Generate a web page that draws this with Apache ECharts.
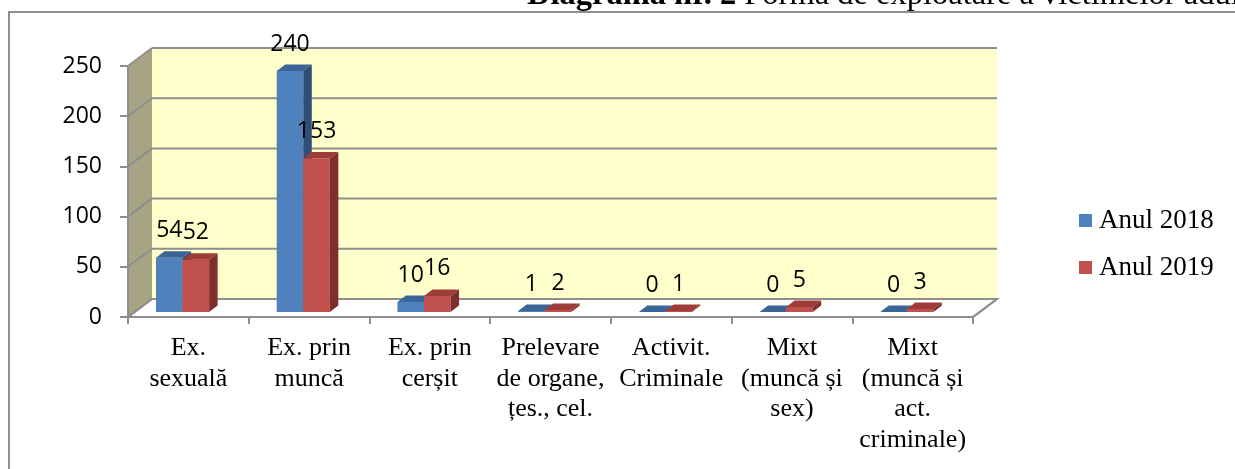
<!DOCTYPE html>
<html><head><meta charset="utf-8">
<script src="https://cdn.jsdelivr.net/npm/echarts@6/dist/echarts.min.js"></script>
<style>html,body{margin:0;padding:0;background:#fff}#c{width:1235px;height:469px}</style>
</head><body><div id="c"></div>
<script>
// ---- data ----
const categories = ['Ex.\nsexuală', 'Ex. prin\nmuncă', 'Ex. prin\ncerșit', 'Prelevare\nde organe,\nțes., cel.', 'Activit.\nCriminale', 'Mixt\n(muncă și\nsex)', 'Mixt\n(muncă și\nact.\ncriminale)'];
const values2018 = [54, 240, 10, 1, 0, 0, 0];
const values2019 = [52, 153, 16, 2, 1, 5, 3];
const seriesNames = ['Anul 2018', 'Anul 2019'];
const yTicks = [0, 50, 100, 150, 200, 250];
const titleBold = 'Diagrama nr. 2';
const titleRest = ' Forma de exploatare a victimelor adulte';

// ---- style constants ----
const GRAY = '#8e8e8e';
const NUM_FONT = 'Open Sans';
const DX = 24, DY = -18;          // wall depth
const BDX = 8.5, BDY = -6.5;      // bar depth
const BAR_LIFT = 5;               // bar front plane above floor front edge
const PAIR_START = -0.268;        // fraction of category width
const BAR_FRAC = 0.22;
const palette = [
  {front: '#4f81bd', top: '#3b6596', side: '#304e75'},
  {front: '#c0504d', top: '#9e3c39', side: '#7e2e2b'}
];

const chart = echarts.init(document.getElementById('c'), null, {renderer: 'canvas'});

function wallsRender(params, api) {
  const cw = api.size([1, 0])[0];
  const p0 = api.coord([0, 0]);
  const xL = p0[0] - cw / 2;
  const xR = api.coord([categories.length - 1, 0])[0] + cw / 2;
  const y0 = p0[1];
  const yT = api.coord([0, yTicks[yTicks.length - 1]])[1];
  const ch = [];
  ch.push({type: 'rect', shape: {x: xL + DX, y: yT + DY, width: xR - xL, height: y0 - yT}, style: {fill: '#ffffcc'}});
  ch.push({type: 'polygon', shape: {points: [[xL, y0], [xL, yT], [xL + DX, yT + DY], [xL + DX, y0 + DY]]}, style: {fill: '#a6a482'}});
  ch.push({type: 'polygon', shape: {points: [[xL, y0], [xR, y0], [xR + DX, y0 + DY], [xL + DX, y0 + DY]]}, style: {fill: '#ffffff', stroke: GRAY, lineWidth: 2}});
  yTicks.forEach(function (t) {
    const y = api.coord([0, t])[1];
    ch.push({type: 'line', shape: {x1: xL + DX, y1: y + DY, x2: xR + DX, y2: y + DY}, style: {stroke: GRAY, lineWidth: 2}});
    ch.push({type: 'line', shape: {x1: xL, y1: y, x2: xL + DX, y2: y + DY}, style: {stroke: GRAY, lineWidth: 2}});
  });
  ch.push({type: 'line', shape: {x1: xR, y1: y0, x2: xR + DX, y2: y0 + DY}, style: {stroke: GRAY, lineWidth: 2}});
  return {type: 'group', children: ch};
}

function barRender(k) {
  return function (params, api) {
    const i = api.value(0), v = api.value(1);
    const cw = api.size([1, 0])[0];
    const base = api.coord([i, 0]);
    const top = api.coord([i, v]);
    const w = cw * BAR_FRAC;
    const L = base[0] + PAIR_START * cw + k * w;
    const R = L + w;
    const yb = base[1] - BAR_LIFT;
    const yt = top[1] - BAR_LIFT;
    const c = palette[k];
    return {type: 'group', children: [
      {type: 'rect', shape: {x: L, y: yt, width: w, height: yb - yt}, style: {fill: c.front}},
      {type: 'polygon', shape: {points: [[L, yt], [R, yt], [R + BDX, yt + BDY], [L + BDX, yt + BDY]]}, style: {fill: c.top}},
      {type: 'polygon', shape: {points: [[R, yt], [R + BDX, yt + BDY], [R + BDX, yb + BDY], [R, yb]]}, style: {fill: c.side}},
      {type: 'text', z2: 50, style: {text: String(v), x: (L + R) / 2, y: yt - 27, align: 'center', verticalAlign: 'middle', fill: '#000', fontFamily: NUM_FONT, fontSize: 23}}
    ]};
  };
}

chart.setOption({
  animation: false,
  backgroundColor: '#ffffff',
  grid: {left: 128, top: 66, width: 845, height: 251, containLabel: false},
  xAxis: {
    type: 'category', data: categories, boundaryGap: true,
    axisLine: {show: true, lineStyle: {color: GRAY, width: 2}},
    axisTick: {show: true, length: 7, lineStyle: {color: GRAY, width: 2}},
    axisLabel: {interval: 0, margin: 16, color: '#000', fontFamily: 'Liberation Serif', fontSize: 26, lineHeight: 30.5, align: 'center'},
    splitLine: {show: false}
  },
  yAxis: {
    type: 'value', min: 0, max: 250, interval: 50,
    axisLine: {show: true, lineStyle: {color: GRAY, width: 2}},
    axisTick: {show: true, length: 8, lineStyle: {color: GRAY, width: 2}},
    axisLabel: {margin: 26, color: '#000', fontFamily: NUM_FONT, fontSize: 23},
    splitLine: {show: false}
  },
  legend: {
    orient: 'vertical', left: 1079, top: 207, padding: 0, itemWidth: 13, itemHeight: 13, itemGap: 20,
    icon: 'rect', data: seriesNames,
    textStyle: {fontFamily: 'Liberation Serif', fontSize: 27, color: '#000', lineHeight: 27, padding: [0, 0, 0, 2]}
  },
  graphic: [
    {type: 'rect', z: 100, shape: {x: 9, y: 12, width: 1240, height: 480}, style: {fill: 'none', stroke: GRAY, lineWidth: 2}},
    {type: 'text', z: 100, style: {x: 527, y: -4.5, text: '{b|' + titleBold + '}' + titleRest, verticalAlign: 'middle', fill: '#000', fontFamily: 'Liberation Serif', fontSize: 32.5,
      rich: {b: {fontWeight: 'bold', fontFamily: 'Liberation Serif', fontSize: 32.5, fill: '#000'}}}}
  ],
  series: [
    {type: 'custom', name: 'walls', z: -1, silent: true, renderItem: wallsRender, data: [[0, 0]], encode: {x: 0, y: 1}},
    {type: 'custom', name: seriesNames[0], z: 3, itemStyle: {color: palette[0].front}, renderItem: barRender(0),
      data: values2018.map(function (v, i) { return [i, v]; }), encode: {x: 0, y: 1}},
    {type: 'custom', name: seriesNames[1], z: 4, itemStyle: {color: palette[1].front}, renderItem: barRender(1),
      data: values2019.map(function (v, i) { return [i, v]; }), encode: {x: 0, y: 1}}
  ]
});
</script></body></html>
